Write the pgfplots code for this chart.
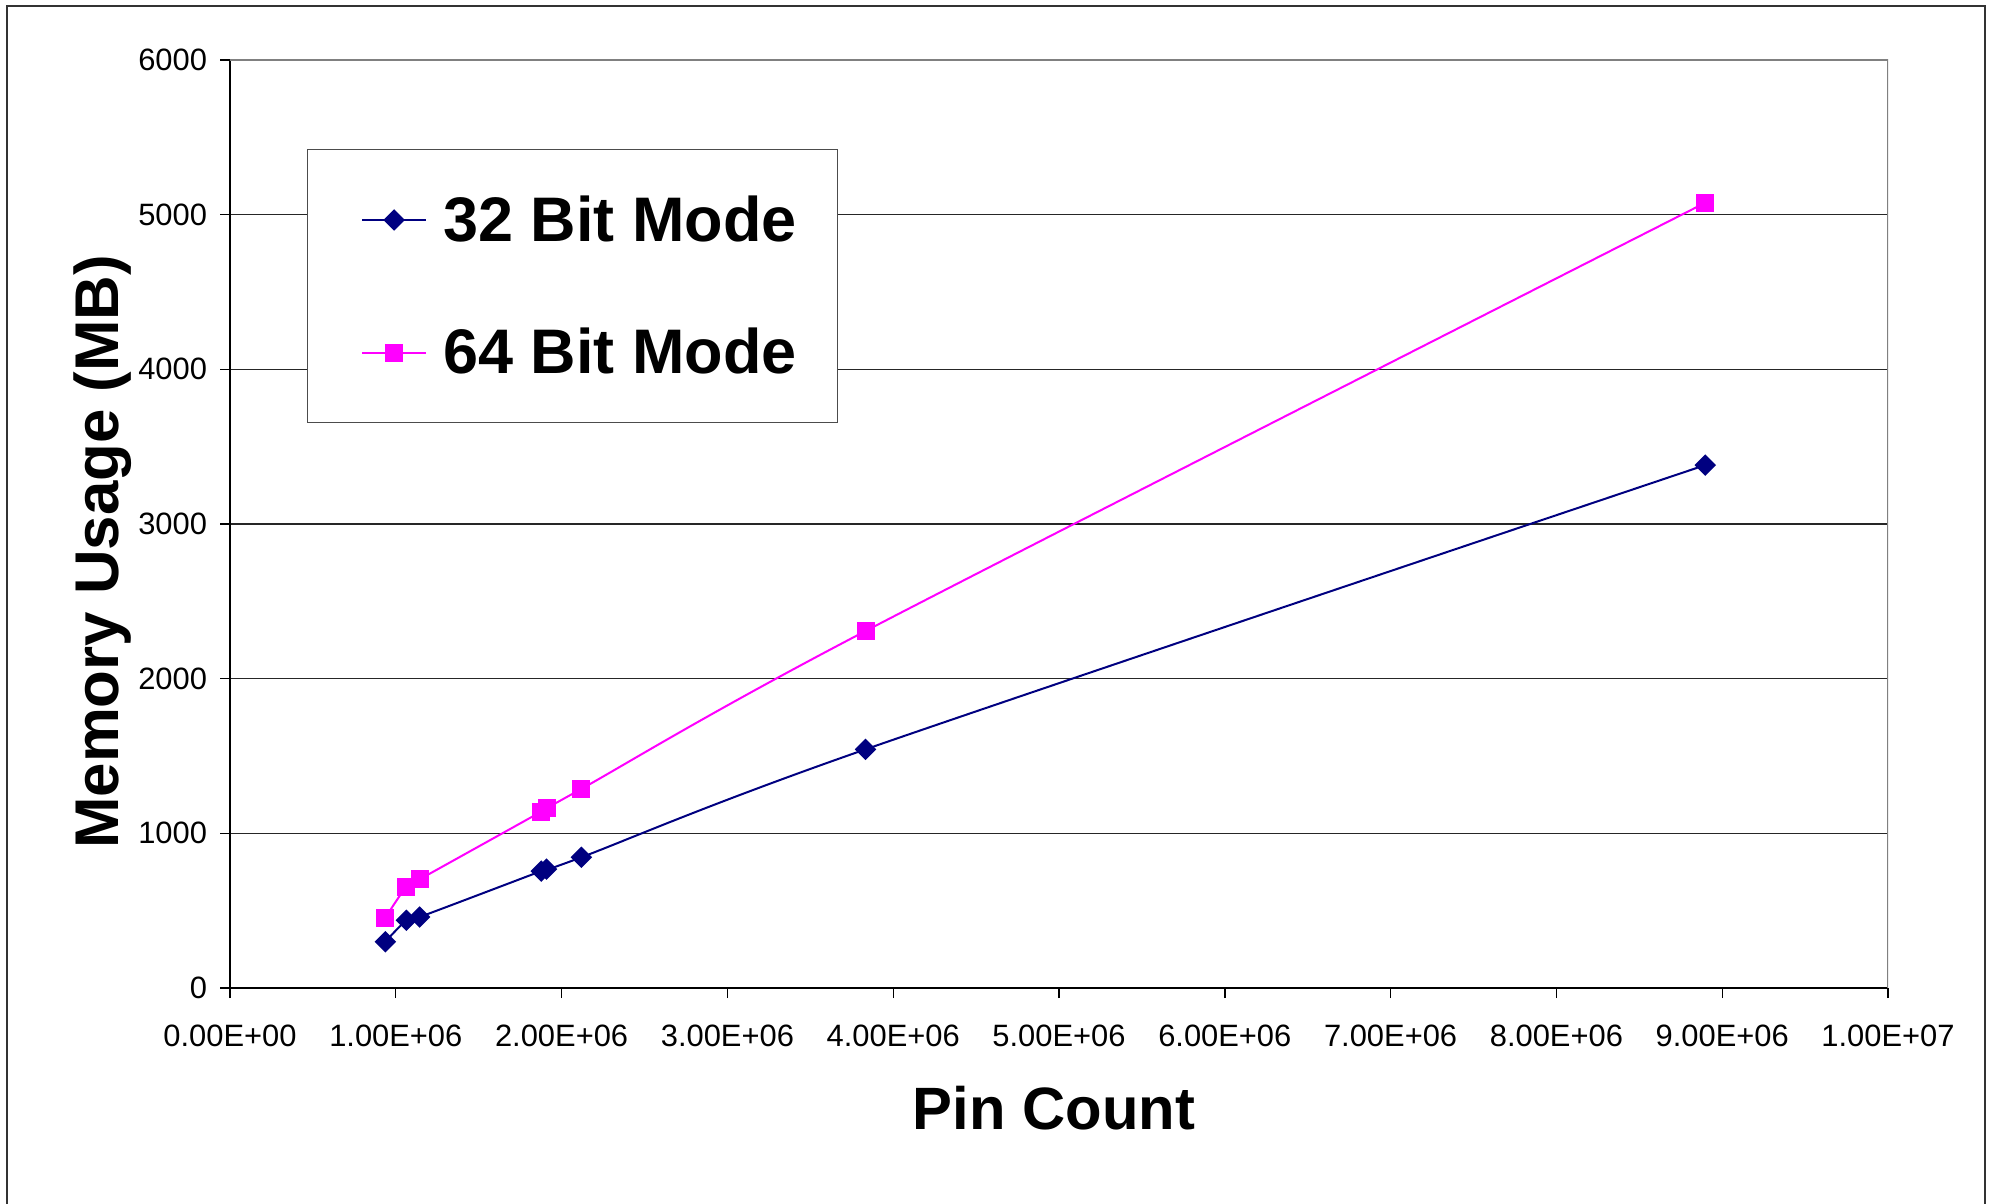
\documentclass[border=0pt]{standalone}
\usepackage{fontspec}
\setmainfont{Liberation Sans}
\usepackage{pgfplots}
\pgfplotsset{compat=1.18}
\definecolor{navyc}{HTML}{000080}
\definecolor{magc}{HTML}{FF00FF}
\begin{document}
\begin{tikzpicture}
\begin{axis}[
  at={(0,0)}, anchor=south west,
  scale only axis, width=829bp, height=464bp,
  xmin=0, xmax=1e7, ymin=0, ymax=6000,
  axis x line*=bottom, axis y line*=left,
  axis line style={black, line width=0.9bp},
  tick align=outside, major tick length=5bp,
  tick style={black, line width=0.7bp},
  xtick={0,1e6,2e6,3e6,4e6,5e6,6e6,7e6,8e6,9e6,1e7},
  xticklabels={0.00E+00,1.00E+06,2.00E+06,3.00E+06,4.00E+06,5.00E+06,6.00E+06,7.00E+06,8.00E+06,9.00E+06,1.00E+07},
  scaled x ticks=false,
  ytick={0,1000,2000,3000,4000,5000,6000},
  yticklabels={0,1000,2000,3000,4000,5000,6000},
  ticklabel style={font=\fontsize{15.5}{18}\selectfont},
  xticklabel style={anchor=base, yshift=-24bp},
  yticklabel style={anchor=east, xshift=-3bp},
  ymajorgrids, major grid style={black!85, line width=0.6bp},
  xlabel={Pin Count},
  xlabel style={at={(axis description cs:0.497,-0.152)}, anchor=base, font=\bfseries\fontsize{30}{36}\selectfont},
  ylabel={Memory Usage (MB)},
  ylabel style={at={(axis description cs:-0.0675,0.470)}, anchor=base, rotate=0, font=\bfseries\fontsize{31}{37}\selectfont},
  legend style={at={(axis description cs:0.0465,0.904)}, anchor=north west,
    draw=black!70, line width=0.6bp, fill=white,
    font=\bfseries\fontsize{31.6}{38}\selectfont,
    inner xsep=18.5bp, inner ysep=21bp, row sep=38bp, column sep=6.2bp},
  legend cell align=left,
  legend image code/.code={\path (0bp,0bp); \draw[mark repeat=2,mark phase=2,#1] plot coordinates {(8.2bp,0bp) (24.2bp,0bp) (40.2bp,0bp)};},
]
\draw[gray, line width=0.9bp] (rel axis cs:0,1) -- (rel axis cs:1,1) -- (rel axis cs:1,0);
\addplot[navyc, line width=1bp, smooth, tension=0.5, mark=square*, mark size=3.3bp, mark options={rotate=45, solid, fill=navyc}] coordinates {
(0.937e6,299) (1.064e6,438) (1.144e6,459) (1.877e6,756) (1.909e6,769) (2.119e6,845) (3.833e6,1543) (8.898e6,3381)};
\addlegendentry{32 Bit Mode}
\addplot[magc, line width=1bp, smooth, tension=0.5, mark=square*, mark size=4bp, mark options={solid, fill=magc}] coordinates {
(0.937e6,454) (1.064e6,655) (1.144e6,703) (1.877e6,1140) (1.909e6,1162) (2.119e6,1287) (3.833e6,2308) (8.898e6,5077)};
\addlegendentry{64 Bit Mode}
\end{axis}
\draw[black!80, line width=1bp] (-111.5bp,-120bp) -- (-111.5bp,491bp) -- (877.5bp,491bp) -- (877.5bp,-120bp);
\pgfresetboundingbox
\path[use as bounding box] (-115bp,-108bp) rectangle (881bp,494bp);
\end{tikzpicture}
\end{document}
